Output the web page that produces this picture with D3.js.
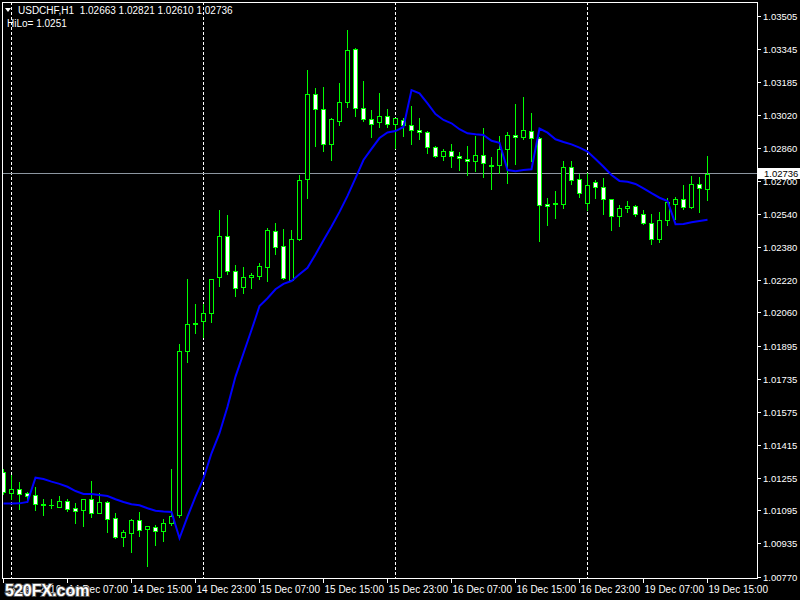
<!DOCTYPE html>
<html>
<head>
<meta charset="utf-8">
<script src="https://cdn.jsdelivr.net/npm/d3@7"></script>
<style>
  html, body { margin: 0; padding: 0; background: #000; }
  svg { display: block; }
  text { font-family: "Liberation Sans", Arial, sans-serif; }
</style>
</head>
<body>
<svg id="chart" width="800" height="600"></svg>
<script>
// ---- data (USDCHF, H1) ----
const symbolTitle = "USDCHF,H1";
const lastOHLC = ["1.02663", "1.02821", "1.02610", "1.02736"];
const hiloLabel = "HiLo= 1.0251";
const currentPrice = 1.02736;

const opens = [1.01282,1.01181,1.01198,1.01180,1.01170,1.01121,1.01121,1.01113,1.01139,1.01107,
  1.01098,1.01150,1.01084,1.01136,1.01056,1.00967,1.00986,1.01047,1.01003,1.01012,
  1.00996,1.01035,1.01071,1.01873,1.02001,1.02020,1.02056,1.02231,1.02431,1.02260,
  1.02182,1.02231,1.02239,1.02283,1.02455,1.02382,1.02219,1.02419,1.02709,1.03123,
  1.03050,1.02880,1.02995,1.03084,1.03344,1.03055,1.03001,1.02987,1.03018,1.02980,
  1.02997,1.02972,1.02948,1.02938,1.02865,1.02821,1.02845,1.02821,1.02806,1.02797,
  1.02826,1.02781,1.02780,1.02855,1.02923,1.02914,1.02943,1.02909,1.02587,1.02593,
  1.02587,1.02767,1.02709,1.02592,1.02694,1.02670,1.02611,1.02529,1.02568,1.02577,
  1.02538,1.02494,1.02416,1.02509,1.02587,1.02611,1.02572,1.02685,1.02663];
const highs = [1.01297,1.01267,1.01233,1.01186,1.01207,1.01150,1.01149,1.01165,1.01150,1.01129,
  1.01150,1.01238,1.01181,1.01141,1.01084,1.00999,1.01051,1.01089,1.01018,1.01024,
  1.01053,1.01297,1.01906,1.02223,1.02101,1.02101,1.02222,1.02559,1.02535,1.02291,
  1.02280,1.02251,1.02299,1.02473,1.02496,1.02467,1.02462,1.02730,1.03242,1.03153,
  1.03159,1.03006,1.03177,1.03437,1.03348,1.03188,1.03047,1.03130,1.03052,1.03007,
  1.03006,1.03066,1.03008,1.02943,1.02871,1.02855,1.02881,1.02842,1.02871,1.02920,
  1.02959,1.02816,1.02920,1.02940,1.03076,1.03112,1.03032,1.02915,1.02616,1.02652,
  1.02800,1.02800,1.02735,1.02738,1.02706,1.02714,1.02612,1.02582,1.02602,1.02584,
  1.02558,1.02538,1.02548,1.02616,1.02621,1.02680,1.02724,1.02719,1.02821];
const lows = [1.01175,1.01150,1.01103,1.01137,1.01097,1.01072,1.01108,1.01112,1.01093,1.01035,
  1.01020,1.01064,1.01080,1.00991,1.00962,1.00921,1.00893,1.00970,1.00824,1.00926,
  1.00946,1.01024,1.01063,1.01820,1.01961,1.01942,1.02015,1.02189,1.02247,1.02142,
  1.02156,1.02181,1.02224,1.02213,1.02346,1.02223,1.02218,1.02413,1.02619,1.02873,
  1.02848,1.02805,1.02974,1.03061,1.03019,1.02995,1.02917,1.02965,1.02965,1.02860,
  1.02922,1.02880,1.02907,1.02839,1.02818,1.02805,1.02770,1.02754,1.02731,1.02749,
  1.02722,1.02663,1.02738,1.02692,1.02784,1.02907,1.02798,1.02410,1.02488,1.02522,
  1.02571,1.02688,1.02624,1.02559,1.02616,1.02540,1.02463,1.02483,1.02551,1.02529,
  1.02492,1.02395,1.02402,1.02486,1.02515,1.02566,1.02568,1.02551,1.02610];
const closes = [1.01185,1.01198,1.01176,1.01167,1.01125,1.01126,1.01120,1.01141,1.01103,1.01093,
  1.01149,1.01084,1.01136,1.01054,1.00967,1.00990,1.01048,1.01001,1.01017,1.00996,
  1.01032,1.01068,1.01872,1.02004,1.02006,1.02056,1.02221,1.02431,1.02260,1.02178,
  1.02231,1.02241,1.02285,1.02460,1.02377,1.02229,1.02416,1.02704,1.03123,1.03050,
  1.02880,1.03001,1.03084,1.03339,1.03055,1.03001,1.02980,1.03018,1.02980,1.03006,
  1.02972,1.02948,1.02938,1.02866,1.02821,1.02847,1.02821,1.02811,1.02797,1.02826,
  1.02787,1.02776,1.02855,1.02923,1.02914,1.02948,1.02909,1.02582,1.02580,1.02590,
  1.02767,1.02704,1.02641,1.02680,1.02670,1.02611,1.02529,1.02568,1.02577,1.02538,
  1.02494,1.02416,1.02509,1.02597,1.02611,1.02572,1.02685,1.02665,1.02736];
const hilo = [1.01128,1.01128,1.01129,1.01136,1.01254,1.01248,1.01235,1.01224,1.01210,1.01189,
  1.01175,1.01175,1.01170,1.01165,1.01149,1.01136,1.01125,1.01120,1.01105,1.01093,
  1.01089,1.01087,1.00959,1.01064,1.01162,1.01251,1.01373,1.01471,1.01600,1.01747,
  1.01861,1.01974,1.02091,1.02129,1.02173,1.02199,1.02213,1.02246,1.02277,1.02342,
  1.02412,1.02479,1.02550,1.02628,1.02715,1.02803,1.02857,1.02910,1.02937,1.02944,
  1.02964,1.03144,1.03128,1.03079,1.03027,1.02998,1.02982,1.02953,1.02933,1.02928,
  1.02925,1.02897,1.02887,1.02754,1.02748,1.02754,1.02758,1.02956,1.02936,1.02904,
  1.02891,1.02879,1.02863,1.02844,1.02808,1.02770,1.02730,1.02701,1.02697,1.02686,
  1.02665,1.02641,1.02619,1.02603,1.02490,1.02491,1.02499,1.02506,1.02512];

const priceTicks = [1.03505,1.03345,1.03185,1.03020,1.02860,1.02700,1.02540,1.02380,1.02220,
  1.02060,1.01895,1.01735,1.01575,1.01415,1.01255,1.01095,1.00935,1.00770];
const timeLabels = ["13 Dec 2016","14 Dec 07:00","14 Dec 15:00","14 Dec 23:00","15 Dec 07:00",
  "15 Dec 15:00","15 Dec 23:00","16 Dec 07:00","16 Dec 15:00","16 Dec 23:00","19 Dec 07:00","19 Dec 15:00"];
const timeLabelBars = [0,8,16,24,32,40,48,56,64,72,80,88];
const daySeparatorBars = [1,25,49,73];

// ---- drawing ----
const svg = d3.select("#chart");
const W = 800, H = 600;
const plot = {left: 2, top: 2, right: 757, bottom: 578};

svg.append("rect").attr("width", W).attr("height", H).attr("fill", "#000");

const x = d3.scaleLinear().domain([0, opens.length - 1]).range([3, 707]);
const y = d3.scaleLinear().domain([1.00770, 1.03505]).range([577, 16]);

const data = opens.map((o, i) => ({i, o, h: highs[i], l: lows[i], c: closes[i]}));
const lime = "#00ff00";

const g = svg.append("g");
g.append("defs").append("clipPath").attr("id", "clip")
  .append("rect").attr("x", plot.left).attr("y", plot.top)
  .attr("width", plot.right - plot.left).attr("height", plot.bottom - plot.top);

const inner = g.append("g").attr("clip-path", "url(#clip)");

// day separators
inner.selectAll("line.sep").data(daySeparatorBars).enter().append("line")
  .attr("class", "sep")
  .attr("x1", d => Math.round(x(d)) + 0.5).attr("x2", d => Math.round(x(d)) + 0.5)
  .attr("y1", plot.top).attr("y2", plot.bottom)
  .attr("stroke", "#ffffff").attr("stroke-width", 1).attr("stroke-dasharray", "3,2");

// bid line
const py = Math.floor(y(currentPrice)) + 0.5;
inner.append("line").attr("x1", plot.left).attr("x2", plot.right)
  .attr("y1", py).attr("y2", py).attr("stroke", "#8c96a0").attr("stroke-width", 1);

// wicks
inner.selectAll("line.wick").data(data).enter().append("line")
  .attr("class", "wick")
  .attr("x1", d => Math.round(x(d.i)) + 0.5).attr("x2", d => Math.round(x(d.i)) + 0.5)
  .attr("y1", d => Math.round(y(d.h))).attr("y2", d => Math.round(y(d.l)) + 1)
  .attr("stroke", lime).attr("stroke-width", 1);

// bodies
data.forEach(d => {
  const cx = Math.round(x(d.i));
  const yt = Math.round(Math.min(y(d.o), y(d.c)));
  const yb = Math.round(Math.max(y(d.o), y(d.c)));
  if (yb - yt < 1) {
    inner.append("line").attr("x1", cx - 2).attr("x2", cx + 3)
      .attr("y1", yt + 0.5).attr("y2", yt + 0.5)
      .attr("stroke", lime).attr("stroke-width", 1);
  } else {
    inner.append("rect").attr("x", cx - 1.5).attr("y", yt + 0.5)
      .attr("width", 4).attr("height", yb - yt)
      .attr("fill", d.c > d.o ? "#000000" : "#ffffff")
      .attr("stroke", lime).attr("stroke-width", 1);
  }
});

// HiLo line
inner.append("path").datum(hilo)
  .attr("d", d3.line().x((d, i) => x(i) + 0.5).y(d => y(d)))
  .attr("fill", "none").attr("stroke", "#0000ff").attr("stroke-width", 2)
  .attr("stroke-linejoin", "miter");

// frame
svg.append("rect").attr("x", plot.left + 0.5).attr("y", plot.top + 0.5)
  .attr("width", plot.right - plot.left).attr("height", plot.bottom - plot.top)
  .attr("fill", "none").attr("stroke", "#ffffff").attr("stroke-width", 1);

// price axis
const yAx = svg.append("g");
priceTicks.forEach(p => {
  const ty = Math.round(y(p)) + 0.5;
  yAx.append("line").attr("x1", plot.right + 1).attr("x2", plot.right + 4)
    .attr("y1", ty).attr("y2", ty).attr("stroke", "#ffffff");
  yAx.append("text").attr("x", 763).attr("y", ty + 3.5)
    .attr("fill", "#ffffff").attr("font-size", "9.5px").text(p.toFixed(5));
});
// current price box
yAx.append("rect").attr("x", plot.right + 1).attr("y", Math.round(py) - 6)
  .attr("width", W - plot.right - 1).attr("height", 11).attr("fill", "#ffffff");
yAx.append("text").attr("x", 764).attr("y", py + 3.5)
  .attr("fill", "#000000").attr("font-size", "9.5px").text(currentPrice.toFixed(5));

// time axis
const xAx = svg.append("g");
timeLabelBars.forEach((b, k) => {
  const tx = Math.round(x(b)) + 0.5;
  xAx.append("line").attr("x1", tx).attr("x2", tx)
    .attr("y1", plot.bottom + 1).attr("y2", plot.bottom + 5).attr("stroke", "#ffffff");
  xAx.append("text").attr("x", tx + 1).attr("y", 593)
    .attr("fill", "#ffffff").attr("font-size", "10px").text(timeLabels[k]);
});

// header
svg.append("path").attr("d", "M5,8 L11,8 L8,12 Z").attr("fill", "#ffffff");
svg.append("text").attr("x", 18).attr("y", 14).attr("fill", "#ffffff")
  .attr("font-size", "10px").style("white-space", "pre")
  .text(symbolTitle + "  " + lastOHLC.join(" "));
svg.append("text").attr("x", 7).attr("y", 27).attr("fill", "#ffffff")
  .attr("font-size", "10px").text(hiloLabel);

// watermark
svg.append("text").attr("x", 5).attr("y", 596)
  .attr("font-size", "16px").attr("font-weight", "bold")
  .attr("fill", "#ffffff").attr("stroke", "#555555").attr("stroke-width", 2)
  .attr("paint-order", "stroke").text("520FX.com");
</script>
</body>
</html>
